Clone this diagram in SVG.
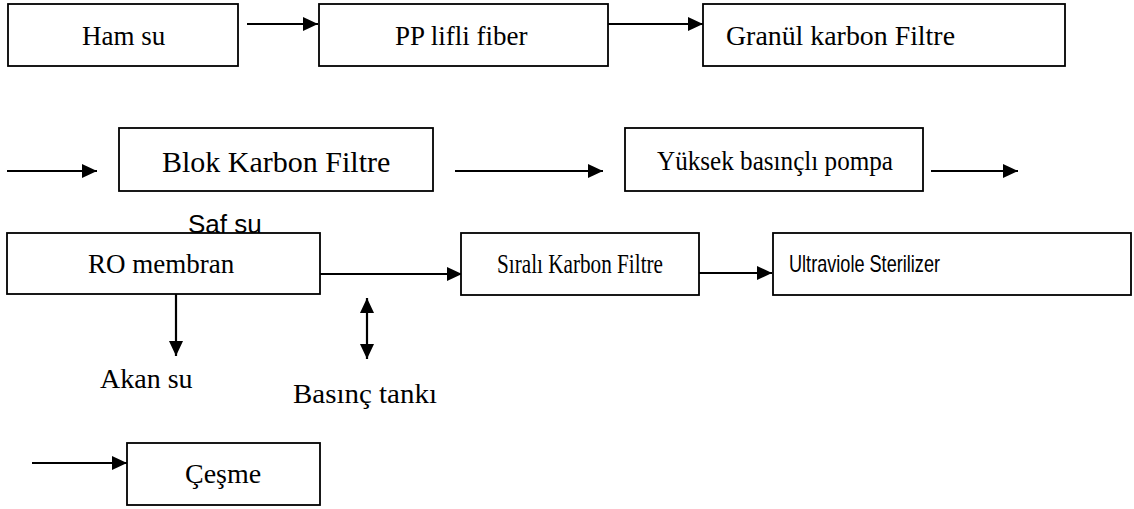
<svg xmlns="http://www.w3.org/2000/svg" width="1134" height="509" viewBox="0 0 1134 509">
<style>
.box{fill:#fff;stroke:#000;stroke-width:1.8}
.t{font-family:"Liberation Serif","Times New Roman",serif;font-size:27px;fill:#000}
.a{font-family:"Liberation Sans",Arial,sans-serif;fill:#000}
.ln{stroke:#000;stroke-width:2.2;fill:none}
</style>
<defs>
<marker id="ah" markerUnits="userSpaceOnUse" markerWidth="17" markerHeight="15" refX="15" refY="7" orient="auto">
<path d="M0,0 L15,7 L0,14 Z" fill="#000"/>
</marker>
<marker id="ahs" markerUnits="userSpaceOnUse" markerWidth="17" markerHeight="15" refX="0" refY="7" orient="auto">
<path d="M15,0 L0,7 L15,14 Z" fill="#000"/>
</marker>
</defs>
<g id="connectors">
<line class="ln" x1="247" y1="24" x2="318" y2="24" marker-end="url(#ah)"/>
<line class="ln" x1="608" y1="24" x2="703" y2="24" marker-end="url(#ah)"/>
<line class="ln" x1="7" y1="171" x2="97" y2="171" marker-end="url(#ah)"/>
<line class="ln" x1="455" y1="171" x2="603" y2="171" marker-end="url(#ah)"/>
<line class="ln" x1="931" y1="171" x2="1018" y2="171" marker-end="url(#ah)"/>
<line class="ln" x1="320" y1="274" x2="462" y2="274" marker-end="url(#ah)"/>
<line class="ln" x1="699" y1="273" x2="772" y2="273" marker-end="url(#ah)"/>
<line class="ln" x1="176" y1="294" x2="176" y2="356" marker-end="url(#ah)"/>
<line class="ln" x1="367" y1="298" x2="367" y2="359" marker-start="url(#ahs)" marker-end="url(#ah)"/>
<line class="ln" x1="32" y1="463" x2="127" y2="463" marker-end="url(#ah)"/>
</g>
<g id="ham-su">
<rect class="box" x="8" y="4" width="230" height="62"/>
<text class="t" x="82" y="45">Ham su</text>
</g>
<g id="pp-lifli-fiber">
<rect class="box" x="319" y="4" width="289" height="62"/>
<text class="t" x="395" y="45">PP lifli fiber</text>
</g>
<g id="granul-karbon">
<rect class="box" x="703" y="4" width="362" height="62"/>
<text class="t" x="726" y="45" textLength="229" lengthAdjust="spacingAndGlyphs">Granül karbon Filtre</text>
</g>
<g id="blok-karbon">
<rect class="box" x="119" y="128" width="314" height="63"/>
<text class="t" x="162" y="172" style="font-size:30px">Blok Karbon Filtre</text>
</g>
<g id="yuksek-pompa">
<rect class="box" x="625" y="128" width="298" height="63"/>
<text class="t" x="657" y="170" textLength="236" lengthAdjust="spacingAndGlyphs">Yüksek basınçlı pompa</text>
</g>
<g id="ro-membran">
<rect class="box" x="7" y="233" width="313" height="61"/>
<text class="t" x="88" y="273">RO membran</text>
<text class="a" x="188" y="233" style="font-size:26px">Saf su</text>
</g>
<g id="sirali-karbon">
<rect class="box" x="461" y="233" width="238" height="62"/>
<text class="t" x="497" y="273" style="font-size:28px" textLength="166" lengthAdjust="spacingAndGlyphs">Sıralı Karbon Filtre</text>
</g>
<g id="uv-sterilizer">
<rect class="box" x="773" y="233" width="358" height="62"/>
<text class="a" x="789" y="272" style="font-size:24px" textLength="151" lengthAdjust="spacingAndGlyphs">Ultraviole Sterilizer</text>
</g>
<g id="akan-su">
<text class="t" x="100" y="388" style="font-size:28px">Akan su</text>
</g>
<g id="basinc-tanki">
<text class="t" x="293" y="403" style="font-size:28px" textLength="144" lengthAdjust="spacingAndGlyphs">Basınç tankı</text>
</g>
<g id="cesme">
<rect class="box" x="127" y="443" width="193" height="62"/>
<text class="t" x="185" y="483" style="font-size:28px">Çeşme</text>
</g>
</svg>
